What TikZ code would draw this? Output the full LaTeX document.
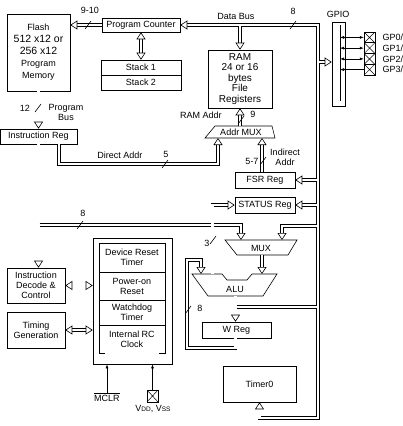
\documentclass[tikz,border=0pt]{standalone}
\usepackage{fontspec}
\setmainfont{Liberation Sans}
\usetikzlibrary{arrows.meta}

\newcommand\bigtxt{\fontsize{10.5}{12}\selectfont}
\newcommand\smalltxt{\fontsize{6.5}{7}\selectfont}

\begin{document}
\begin{tikzpicture}[x=1pt, y=-1pt, font=\fontsize{9}{10}\selectfont,
    opentip/.tip={Triangle[length=7pt, width=9pt, line width=0.6pt, color=black, fill=white]},
    blk/.style={draw, line width=0.6pt, align=center, inner sep=0pt},
    bus/.style={line width=3.6pt, postaction={draw=white, line width=2.4pt}},
    busto/.style={line width=3.6pt, shorten >=7pt,
      postaction={draw=white, line width=2.4pt},
      postaction={draw=white, line width=0.2pt, shorten >=0pt, shorten <=0pt, -opentip}},
    busboth/.style={line width=3.6pt, shorten >=7pt, shorten <=7pt,
      postaction={draw=white, line width=2.4pt},
      postaction={draw=white, line width=0.2pt, shorten >=0pt, shorten <=0pt, opentip-opentip}},
    wire/.style={line width=0.6pt},
    sig/.style={line width=0.6pt, -{Latex[length=4pt, width=3pt]}},
    lbl/.style={inner sep=0pt, align=center},
    pin/.style={draw, line width=0.6pt, minimum size=10.75pt, inner sep=0pt,
      path picture={\draw[line width=0.5pt]
        (path picture bounding box.south west) -- (path picture bounding box.north east)
        (path picture bounding box.north west) -- (path picture bounding box.south east);}}]

    % 0. Page
    \path[use as bounding box, fill=white] (0,0) rectangle (402,426);

    % 1. Blocks
    \node[blk, minimum width=63, minimum height=77, font=\fontsize{9}{12}\selectfont] (flash) at (38.5,52.5)
        {Flash\\{\bigtxt 512 x12 or}\\{\bigtxt 256 x12}\\Program\\Memory};
    \node[blk, minimum width=78, minimum height=14] (pc) at (141,25) {Program Counter};
    \node[blk, minimum width=80, minimum height=15] (stack1) at (141,67.5) {Stack 1};
    \node[blk, minimum width=80, minimum height=15] (stack2) at (141,82.5) {Stack 2};
    \node[blk, minimum width=64, minimum height=58, font=\fontsize{10}{10.5}\selectfont] (ram) at (240,79)
        {RAM\\24 or 16\\bytes\\File\\Registers};
    \node[blk, minimum width=77, minimum height=15] (ir) at (38.5,136.5) {Instruction Reg};
    \node[blk, minimum width=60, minimum height=16] (fsr) at (265,180) {FSR Reg};
    \node[blk, minimum width=60, minimum height=16] (status) at (265,205) {STATUS Reg};
    \node[blk, minimum width=69, minimum height=16] (wreg) at (236.5,330) {W Reg};
    \node[blk, minimum width=73, minimum height=36] (timer0) at (259.5,384) {Timer0};
    \node[blk, minimum width=58, minimum height=35] (idc) at (36,285.5) {Instruction\\Decode \&\\Control};
    \node[blk, minimum width=58, minimum height=36] (tgen) at (36,330) {Timing\\Generation};

    % 2. Reset / clock block
    \node[blk, minimum width=79, minimum height=126] (outer) at (132.5,301) {};
    \node[blk, minimum width=66, minimum height=29] (drt) at (132,257.5) {Device Reset\\Timer};
    \node[blk, minimum width=66, minimum height=28] (por) at (132,286) {Power-on\\Reset};
    \node[blk, minimum width=66, minimum height=25] (wdt) at (132,312.5) {Watchdog\\Timer};
    \node[lbl, minimum width=66, minimum height=28] (rc) at (132,339) {Internal RC\\Clock};
    \draw[wire] ([xshift=6pt]rc.south west) -- (rc.south west) -- (rc.north west);
    \draw[wire] ([xshift=-6pt]rc.south east) -- (rc.south east) -- (rc.north east);

    % 3. MUX shapes
    \draw[wire] (205,138) -- (215,126) -- (272,126) -- (275,138) -- cycle;
    \node[lbl] (addrmux) at (241,132.5) {Addr MUX};
    \coordinate (amT) at (240,126);
    \coordinate (amA) at (218,138);
    \coordinate (amB) at (262,138);

    \draw[wire] (225,240) -- (297,240) -- (288,255) -- (237,255) -- cycle;
    \node[lbl] (mux) at (261,248) {MUX};
    \coordinate (muxA) at (241,240);
    \coordinate (muxB) at (282,240);
    \coordinate (muxO) at (262,255);

    \draw[wire] (192,274) -- (222,274) -- (227,280) -- (247,280) -- (252,274)
        -- (277,274) -- (263,296) -- (208,296) -- cycle;
    \node[lbl] (alu) at (235,289) {ALU};
    \coordinate (aluA) at (201,274);
    \coordinate (aluB) at (262,274);
    \coordinate (aluS) at (212.5,274);
    \coordinate (aluO) at (235.5,296);
    \coordinate (wL) at (187,348);
    \coordinate (wT) at (187,260);

    % 4. GPIO
    \node[blk, minimum width=13, minimum height=84] (gpio) at (338.5,64) {};
    \node[lbl] (gpiolbl) at (338,14) {GPIO};
    \coordinate (ginT) at (340,25);
    \coordinate (ginB) at (340,101);
    \draw[wire] (ginT) -- (ginB);
    \foreach \i/\y in {0/37.4,1/48.1,2/58.9,3/69.6} {
        \node[pin] (p\i) at (369.5,\y) {};
        \node[lbl, anchor=west] (gp\i) at (382.5,\y) {GP\i/};
    }
    \foreach \i in {0,1,2}
        \draw[sig, {Latex[length=4pt, width=3pt]}-{Latex[length=4pt, width=3pt]}] (ginT |- p\i.west) -- (p\i.west);
    \draw[sig, {Latex[length=4pt, width=3pt]}-] (ginT |- p3.west) -- (p3.west);

    % 5. Main buses
    \coordinate (dbT) at (318,25);
    \coordinate (dbB) at (318,418);
    \draw[busboth] (pc.east) -- (dbT) -- (dbB) -| (timer0.south);
    \draw[busto] (pc.west) -- (pc.west -| flash.east);
    \draw[busboth] (pc.south) -- (stack1.north);
    \draw[busto] (flash.south) -- (ir.north);
    \draw[busto] (ir.south) -- (ir.south |- idc.north);
    \coordinate (daC) at (59,164);
    \draw[busto] (daC |- ir.south) -- (daC) -| (amA);
    \draw[busto] (amT) -- (ram.south);
    \draw[busto] (fsr.north -| amB) -- (amB);
    \draw[busto] (muxO) -- (aluB);
    \draw[busto] (aluO) -- (aluO |- wreg.north);
    \draw[busto] (wreg.south -| aluO) |- (wL) -- (wT) -| (aluA);
    \draw[busboth] (idc.east) -- (idc.east -| outer.west);
    \draw[busboth] (tgen.east) -- (tgen.east -| outer.west);

    % 6. Branches off the buses
    \coordinate (j8) at (39.7,225);
    \draw[busto] (j8) -| (muxA);
    \draw[busto] (aluS) |- (status.west);
    \coordinate (jram) at (240,26.2);
    \draw[busto] (jram) -- (ram.north);
    \coordinate (jgpio) at (319.2,62);
    \draw[busto] (jgpio) -- (jgpio -| gpio.west);
    \coordinate (jfsr) at (316.8,180);
    \draw[busto] (jfsr) -- (fsr.east);
    \coordinate (jstat) at (316.8,205);
    \draw[busto] (jstat) -- (status.east);
    \coordinate (jmux) at (316.8,226);
    \draw[busto] (jmux) -| (muxB);
    \coordinate (jw) at (236.7,307);
    \coordinate (jalu) at (316.8,307);
    \draw[bus] (jw) -- (jalu);

    % 7. Pins at the bottom
    \node[lbl] (mclr) at (107,397) {$\overline{\mbox{MCLR}}$};
    \node[pin, minimum width=11pt, minimum height=12pt] (vdd) at (152.5,396) {};
    \node[lbl] (vddlbl) at (153,409) {V{\smalltxt DD}, V{\smalltxt SS}};
    \draw[sig] (mclr.north) -- (mclr.north |- outer.south);
    \draw[sig] (vdd.north) -- (vdd.north |- outer.south);

    % 8. Bus labels and width marks
    \node[lbl] (w910) at (90,10) {9-10};
    \node[lbl] (wdb) at (236,16) {Data Bus};
    \node[lbl] (w8a) at (293,11) {8};
    \node[lbl] (w12) at (25,108) {12};
    \node[lbl] (wpb) at (66,112) {Program\\Bus};
    \node[lbl] (wram) at (201,115) {RAM Addr};
    \node[lbl] (w9) at (253,114) {9};
    \node[lbl] (wda) at (120,155) {Direct Addr};
    \node[lbl] (w5) at (166,154) {5};
    \node[lbl] (w57) at (252,161) {5-7};
    \node[lbl] (wia) at (285,157) {Indirect\\Addr};
    \node[lbl] (w8b) at (83,213) {8};
    \node[lbl] (w3) at (207,243) {3};
    \node[lbl] (w8c) at (200,308) {8};
    \foreach \x/\y in {88/25, 293/25, 38/108, 241/120, 165/164, 263/161, 80/225, 213/240, 188/310}
        \draw[wire] (\x-3,\y+4) -- (\x+3,\y-4);

\end{tikzpicture}
\end{document}
